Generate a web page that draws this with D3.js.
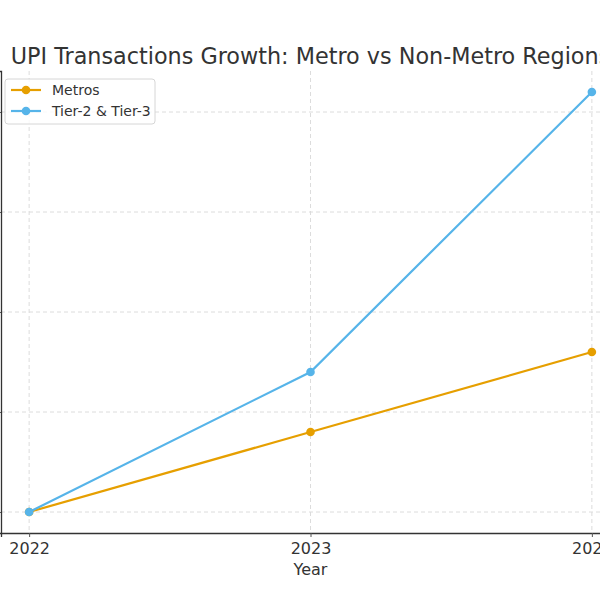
<!DOCTYPE html>
<html>
<head>
<meta charset="utf-8">
<script src="https://cdn.jsdelivr.net/npm/d3@7"></script>
<style>
  body { margin: 0; background: #fff; }
  svg { display: block; font-family: "DejaVu Sans", sans-serif; }
</style>
</head>
<body>
<svg></svg>
<script>
const years = [2022, 2023, 2024];
const metros = [100, 180, 260];
const tier23 = [100, 240, 520];
const yTicks = [100, 200, 300, 400, 500];

const seriesNames = ["Metros", "Tier-2 & Tier-3"];
const seriesColors = ["#E69F00", "#56B4E9"];

const svg = d3.select("svg")
    .attr("width", 600)
    .attr("height", 600);

const margin = { left: 1, right: -20, top: 71, bottom: 67 };
const width = 600 - margin.left - margin.right;
const height = 600 - margin.top - margin.bottom;

const x = d3.scaleLinear()
    .domain([2021.9, 2024.1])
    .range([margin.left, margin.left + width]);

const y = d3.scaleLinear()
    .domain([79, 541])
    .range([margin.top + height, margin.top]);

// grid
const grid = svg.append("g").attr("class", "grid");
grid.selectAll("line.h")
    .data(yTicks)
    .enter().append("line")
    .attr("x1", margin.left)
    .attr("x2", margin.left + width)
    .attr("y1", d => y(d))
    .attr("y2", d => y(d))
    .attr("stroke", "#dcdcdc")
    .attr("stroke-dasharray", "4,3");
grid.selectAll("line.v")
    .data(years)
    .enter().append("line")
    .attr("x1", d => x(d))
    .attr("x2", d => x(d))
    .attr("y1", margin.top)
    .attr("y2", margin.top + height)
    .attr("stroke", "#dcdcdc")
    .attr("stroke-dasharray", "4,3");

// axes
const xAxis = svg.append("g")
    .attr("transform", `translate(0,${margin.top + height})`)
    .call(d3.axisBottom(x).tickValues(years).tickFormat(d3.format("d")).tickSizeOuter(0).tickSize(4).tickPadding(6));
xAxis.select(".domain").attr("stroke", "#333").attr("stroke-width", 1.3);
xAxis.selectAll(".tick line").attr("stroke", "#555");
xAxis.selectAll(".tick text")
    .attr("fill", "#333")
    .style("font-size", "16px")
    .style("font-family", "DejaVu Sans");

// y tick labels fall off the left edge, as in the reference
const yAxis = svg.append("g")
    .attr("transform", `translate(${margin.left},0)`)
    .call(d3.axisLeft(y).tickValues(yTicks).tickSizeOuter(0).tickSize(4));
yAxis.select(".domain").attr("stroke", "#333").attr("stroke-width", 1.3);
yAxis.selectAll(".tick line").attr("stroke", "#555");
yAxis.selectAll(".tick text")
    .attr("fill", "#333")
    .style("font-size", "16px")
    .style("font-family", "DejaVu Sans");

// lines
const data = [metros, tier23];
const line = d3.line()
    .x((d, i) => x(years[i]))
    .y(d => y(d));

data.forEach((vals, k) => {
    svg.append("path")
        .datum(vals)
        .attr("fill", "none")
        .attr("stroke", seriesColors[k])
        .attr("stroke-width", 2.2)
        .attr("d", line);
    svg.append("g")
        .selectAll("circle")
        .data(vals)
        .enter().append("circle")
        .attr("cx", (d, i) => x(years[i]))
        .attr("cy", d => y(d))
        .attr("r", 4.3)
        .attr("fill", seriesColors[k]);
});

// title & label
svg.append("text")
    .attr("x", margin.left + width / 2)
    .attr("y", 64)
    .attr("text-anchor", "middle")
    .attr("fill", "#333")
    .style("font-size", "22.3px")
    .text("UPI Transactions Growth: Metro vs Non-Metro Regions");

svg.append("text")
    .attr("x", margin.left + width / 2)
    .attr("y", 575)
    .attr("text-anchor", "middle")
    .attr("fill", "#333")
    .style("font-size", "16px")
    .text("Year");

// legend
const legend = svg.append("g").attr("transform", "translate(5,79)");
legend.append("rect")
    .attr("width", 150)
    .attr("height", 45)
    .attr("rx", 3)
    .attr("fill", "#fff")
    .attr("fill-opacity", 0.8)
    .attr("stroke", "#d6d6d6");
seriesNames.forEach((name, i) => {
    const g = legend.append("g").attr("transform", `translate(0,${11 + i * 21})`);
    g.append("line")
        .attr("x1", 6).attr("x2", 36)
        .attr("stroke", seriesColors[i])
        .attr("stroke-width", 2.2);
    g.append("circle")
        .attr("cx", 21).attr("r", 4.3)
        .attr("fill", seriesColors[i]);
    g.append("text")
        .attr("x", 47)
        .attr("y", 5)
        .attr("fill", "#333")
        .style("font-size", "14px")
        .text(name);
});
</script>
</body>
</html>
